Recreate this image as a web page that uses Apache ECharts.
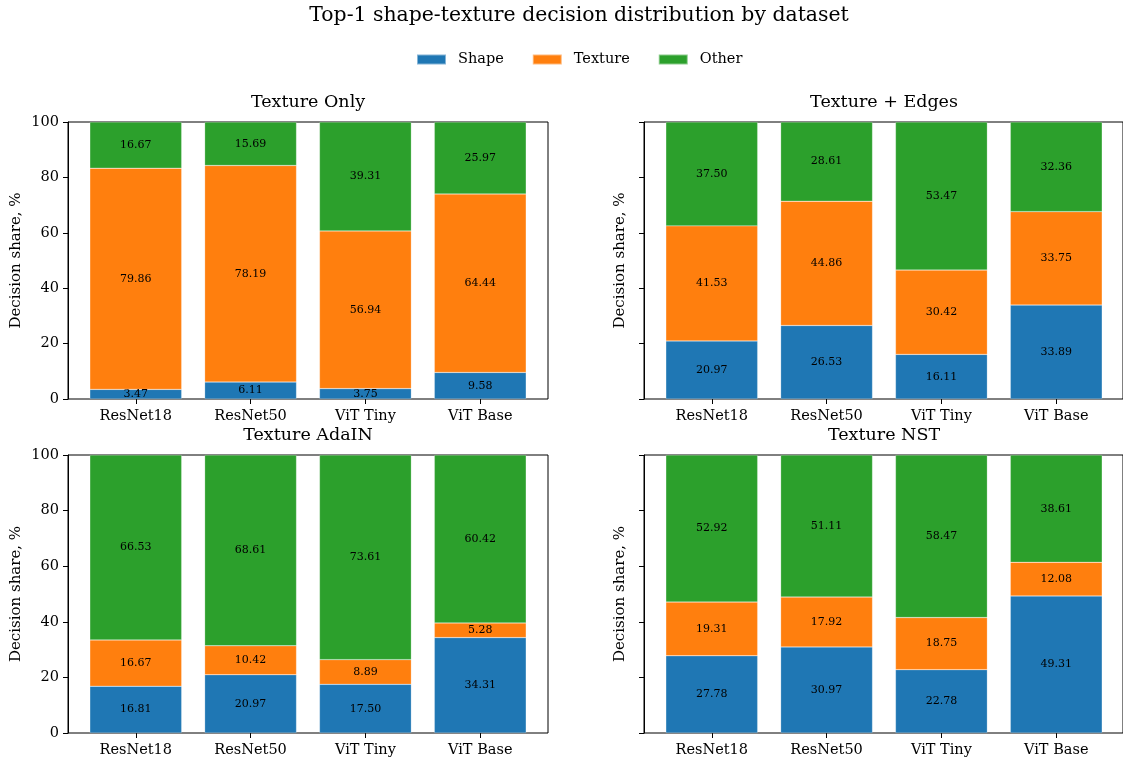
<!DOCTYPE html>
<html>
<head>
<meta charset="utf-8">
<script src="https://cdn.jsdelivr.net/npm/echarts@6/dist/echarts.min.js"></script>
<style>
  html, body { margin: 0; padding: 0; background: #fff; }
  #chart { width: 1123px; height: 762px; }
</style>
</head>
<body>
<div id="chart"></div>
<script>
const models = ['ResNet18', 'ResNet50', 'ViT Tiny', 'ViT Base'];
const datasets = ['Texture Only', 'Texture + Edges', 'Texture AdaIN', 'Texture NST'];
const yTicks = [0, 20, 40, 60, 80, 100];

// one array per dataset and decision class, in model order
const shapeTextureOnly = [3.47, 6.11, 3.75, 9.58];
const textureTextureOnly = [79.86, 78.19, 56.94, 64.44];
const otherTextureOnly = [16.67, 15.69, 39.31, 25.97];

const shapeEdges = [20.97, 26.53, 16.11, 33.89];
const textureEdges = [41.53, 44.86, 30.42, 33.75];
const otherEdges = [37.50, 28.61, 53.47, 32.36];

const shapeAdaIN = [16.81, 20.97, 17.50, 34.31];
const textureAdaIN = [16.67, 10.42, 8.89, 5.28];
const otherAdaIN = [66.53, 68.61, 73.61, 60.42];

const shapeNST = [27.78, 30.97, 22.78, 49.31];
const textureNST = [19.31, 17.92, 18.75, 12.08];
const otherNST = [52.92, 51.11, 58.47, 38.61];

const classes = ['Shape', 'Texture', 'Other'];
const colors = ['#1f77b4', '#ff7f0e', '#2ca02c'];
const panels = [
    [shapeTextureOnly, textureTextureOnly, otherTextureOnly],
    [shapeEdges, textureEdges, otherEdges],
    [shapeAdaIN, textureAdaIN, otherAdaIN],
    [shapeNST, textureNST, otherNST]
];

const font = 'DejaVu Serif';
// outer frames (axes boxes)
const frames = [
    { left: 68, top: 122, width: 480, height: 277 },
    { left: 644, top: 122, width: 480, height: 277 },
    { left: 68, top: 455, width: 480, height: 278 },
    { left: 644, top: 455, width: 480, height: 278 }
];
// matplotlib pads the bar extent by 5% on each side: 4.18 category units over the frame
const unit = 480 / 4.18;
const pad = 0.09 * unit;

const grids = [];
const xAxes = [];
const yAxes = [];
const series = [];
const titles = [{
    text: 'Top-1 shape-texture decision distribution by dataset',
    left: 574, top: 1, textAlign: 'center',
    textStyle: { fontFamily: font, fontSize: 20.4, fontWeight: 'normal', color: '#000' }
}];

frames.forEach((g, k) => {
    const isLeft = k % 2 === 0;
    const outer = 2 * k;
    const inner = 2 * k + 1;
    // outer grid: box + y axis
    grids.push(Object.assign({
        show: true, borderColor: '#000', borderWidth: 1, backgroundColor: 'transparent'
    }, g));
    // inner grid: categories + bars
    grids.push({ left: g.left + pad, top: g.top, width: 4 * unit, height: g.height });

    titles.push({
        text: datasets[k],
        left: g.left + g.width / 2 - 5, top: g.top - 34, textAlign: 'center',
        textStyle: { fontFamily: font, fontSize: 17.5, fontWeight: 'normal', color: '#000' }
    });

    xAxes.push({ type: 'value', gridIndex: outer, min: 0, max: 1, show: false });
    yAxes.push({
        type: 'value', gridIndex: outer, min: 0, max: 100, interval: 20,
        name: 'Decision share, %', nameLocation: 'middle', nameGap: isLeft ? 44 : 16,
        nameTextStyle: { fontFamily: font, fontSize: 15, color: '#000' },
        splitLine: { show: false },
        axisLine: { show: true, onZero: false, lineStyle: { color: '#000', width: 1 } },
        axisTick: { show: true, length: 5, lineStyle: { color: '#000' } },
        axisLabel: {
            show: isLeft, margin: 9,
            formatter: v => (yTicks.includes(v) ? String(v) : ''),
            fontFamily: font, fontSize: 14.5, color: '#000'
        }
    });

    xAxes.push({
        type: 'category', gridIndex: inner, data: models,
        axisLine: { show: false },
        axisTick: { show: true, alignWithLabel: true, length: 5, lineStyle: { color: '#000' } },
        axisLabel: { margin: 10, fontFamily: font, fontSize: 14.5, color: '#000' }
    });
    yAxes.push({ type: 'value', gridIndex: inner, min: 0, max: 100, show: false });

    panels[k].forEach((vals, c) => {
        series.push({
            name: classes[c],
            type: 'bar',
            xAxisIndex: inner, yAxisIndex: inner,
            stack: 'panel' + k,
            barWidth: '80%',
            itemStyle: { color: colors[c], borderColor: 'rgba(255,255,255,0.45)', borderWidth: 0.5 },
            label: {
                show: true, position: 'inside',
                formatter: p => p.value.toFixed(2),
                fontFamily: font, fontSize: 11, color: '#000'
            },
            data: vals
        });
    });
});

const chart = echarts.init(document.getElementById('chart'), null, { renderer: 'canvas' });
chart.setOption({
    animation: false,
    backgroundColor: '#fff',
    textStyle: { fontFamily: font },
    title: titles,
    legend: {
        data: classes,
        left: 411, top: 47,
        icon: 'rect', itemWidth: 29, itemHeight: 10, itemGap: 28,
        textStyle: { fontFamily: font, fontSize: 14.5, color: '#000', padding: [0, 0, 0, 7] }
    },
    grid: grids,
    xAxis: xAxes,
    yAxis: yAxes,
    series: series
});
</script>
</body>
</html>
